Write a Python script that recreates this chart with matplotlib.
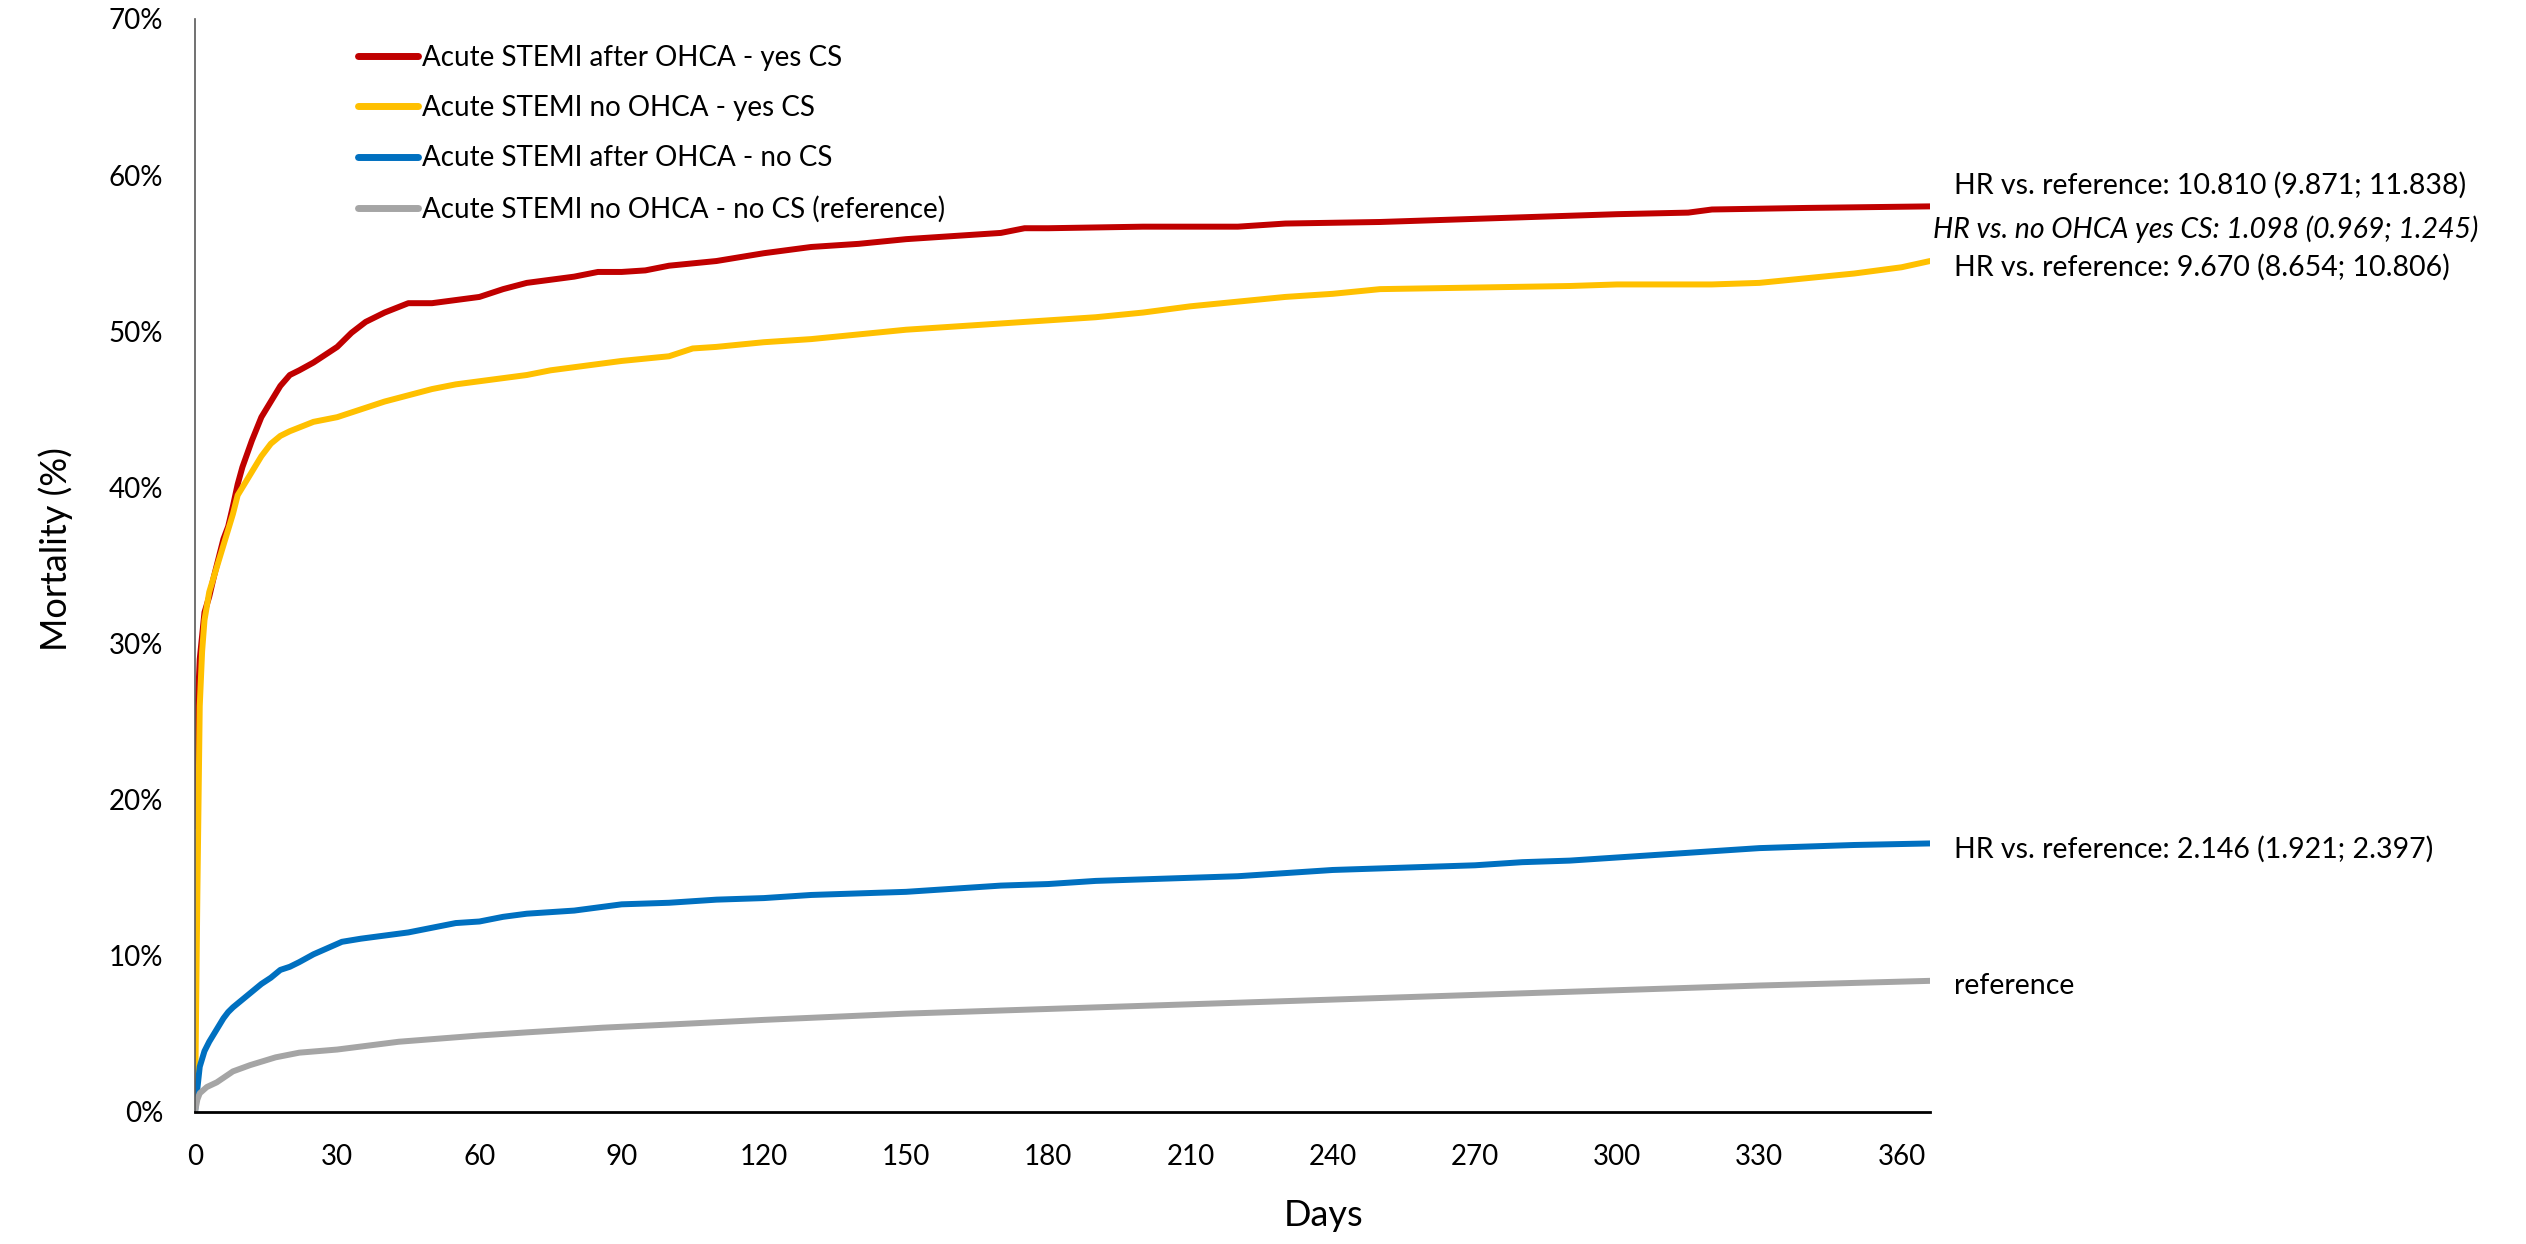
import matplotlib
matplotlib.use("Agg")
import matplotlib.pyplot as plt
from matplotlib.ticker import FuncFormatter

plt.rcParams['font.family'] = ['Lato', 'DejaVu Sans']

# Series: days since event and cumulative mortality (%)
days_red = [0, 0.3, 1, 2, 3, 4, 5, 6, 7, 8, 9, 10, 12, 14, 16, 18, 20, 22, 25, 28, 30,
            33, 36, 40, 45, 50, 55, 60, 65, 70, 75, 80, 85, 90, 95, 100, 110, 120, 130,
            140, 150, 160, 170, 175, 180, 200, 220, 230, 250, 260, 280, 300, 315, 320,
            340, 366]
mort_red = [18.3, 24, 29, 32, 33, 34.3, 35.5, 36.7, 37.5, 38.8, 40.2, 41.3, 43, 44.5,
            45.5, 46.5, 47.2, 47.5, 48, 48.6, 49, 49.9, 50.6, 51.2, 51.8, 51.8, 52,
            52.2, 52.7, 53.1, 53.3, 53.5, 53.8, 53.8, 53.9, 54.2, 54.5, 55, 55.4, 55.6,
            55.9, 56.1, 56.3, 56.6, 56.6, 56.7, 56.7, 56.9, 57.0, 57.1, 57.3, 57.5,
            57.6, 57.8, 57.9, 58.0]

days_yellow = [0, 0.5, 1, 1.5, 2, 3, 4, 5, 6, 7, 8, 9, 10, 12, 14, 16, 18, 20, 25, 30,
               35, 40, 45, 50, 55, 60, 65, 70, 75, 80, 85, 90, 100, 105, 110, 120, 130,
               140, 150, 160, 170, 180, 190, 200, 210, 220, 230, 240, 250, 270, 290,
               300, 320, 330, 340, 350, 360, 366]
mort_yellow = [0, 14, 26, 29.5, 31.5, 33.3, 34.3, 35.3, 36.3, 37.3, 38.3, 39.5, 40, 41,
               42, 42.8, 43.3, 43.6, 44.2, 44.5, 45, 45.5, 45.9, 46.3, 46.6, 46.8, 47,
               47.2, 47.5, 47.7, 47.9, 48.1, 48.4, 48.9, 49, 49.3, 49.5, 49.8, 50.1,
               50.3, 50.5, 50.7, 50.9, 51.2, 51.6, 51.9, 52.2, 52.4, 52.7, 52.8, 52.9,
               53, 53, 53.1, 53.4, 53.7, 54.1, 54.5]

days_blue = [0, 0.5, 1, 2, 3, 4, 5, 6, 7, 8, 10, 12, 14, 16, 18, 20, 22, 25, 28, 31, 35,
             40, 45, 50, 55, 60, 65, 70, 80, 85, 90, 100, 110, 120, 130, 140, 150, 160,
             170, 180, 190, 200, 210, 220, 230, 240, 250, 260, 270, 280, 290, 300, 310,
             320, 330, 340, 350, 366]
mort_blue = [0, 1.5, 2.9, 3.9, 4.5, 5.0, 5.5, 6.0, 6.4, 6.7, 7.2, 7.7, 8.2, 8.6, 9.1,
             9.3, 9.6, 10.1, 10.5, 10.9, 11.1, 11.3, 11.5, 11.8, 12.1, 12.2, 12.5, 12.7,
             12.9, 13.1, 13.3, 13.4, 13.6, 13.7, 13.9, 14, 14.1, 14.3, 14.5, 14.6, 14.8,
             14.9, 15, 15.1, 15.3, 15.5, 15.6, 15.7, 15.8, 16, 16.1, 16.3, 16.5, 16.7,
             16.9, 17, 17.1, 17.2]

days_gray = [0, 0.5, 1, 2.5, 4.6, 8, 11.6, 17, 22, 30, 43, 60, 70, 86, 100, 120,
             150, 180, 210, 240, 270, 300, 330, 366]
mort_gray = [0, 0.8, 1.2, 1.6, 1.9, 2.6, 3.0, 3.5, 3.8, 4.0, 4.5, 4.9, 5.1, 5.4, 5.6,
             5.9, 6.3, 6.6, 6.9, 7.2, 7.5, 7.8, 8.1, 8.4]

labels = ['Acute STEMI after OHCA - yes CS', 'Acute STEMI no OHCA - yes CS',
          'Acute STEMI after OHCA - no CS', 'Acute STEMI no OHCA - no CS (reference)']
colors = ['#C00000', '#FFC000', '#0070C0', '#A5A5A5']

x_ticks = list(range(0, 361, 30))
y_ticks = list(range(0, 71, 10))

hr_texts = ['HR vs. reference: 10.810 (9.871; 11.838)',
            'HR vs. no OHCA yes CS: 1.098 (0.969; 1.245)',
            'HR vs. reference: 9.670 (8.654; 10.806)',
            'HR vs. reference: 2.146 (1.921; 2.397)',
            'reference']

W, H = 2526, 1244
fig = plt.figure(figsize=(W / 100, H / 100), dpi=100)
ax = fig.add_axes([195 / W, 1 - 1112 / H, (1930 - 195) / W, (1112 - 19) / H])

series = [(days_red, mort_red), (days_yellow, mort_yellow),
          (days_blue, mort_blue), (days_gray, mort_gray)]
for (d, m), lab, c in zip(series, labels, colors):
    ax.plot(d, m, color=c, lw=4.3, label=lab, solid_capstyle='round')

ax.set_xlim(0, 366)
ax.set_ylim(0, 70)
ax.set_xticks(x_ticks)
ax.set_yticks(y_ticks)
ax.yaxis.set_major_formatter(FuncFormatter(lambda v, p: f'{int(v)}%'))
ax.tick_params(length=0, labelsize=20, pad=23)

for s in ['top', 'right']:
    ax.spines[s].set_visible(False)
ax.spines['left'].set_color('#595959')
ax.spines['left'].set_linewidth(1.2)
ax.spines['bottom'].set_color('black')
ax.spines['bottom'].set_linewidth(2.0)

leg = ax.legend(loc='upper left', bbox_to_anchor=(358 / W, 1 - 45 / H),
                bbox_transform=fig.transFigure, frameon=False, fontsize=20,
                handlelength=2.15, handletextpad=0.15, labelspacing=0.87,
                borderpad=0, borderaxespad=0)
for line in leg.get_lines():
    line.set_linewidth(5)

fig.text(1324 / W, 1 - 1216 / H, 'Days', fontsize=26, ha='center', va='center')
fig.text(56 / W, 1 - 549 / H, 'Mortality (%)', fontsize=26, ha='center', va='center',
         rotation=90)

# hazard ratio notes at the right end of the curves
note_pos = [(1954, 185, 'normal'), (1933, 229, 'italic'), (1954, 267, 'normal'),
            (1954, 849, 'normal'), (1954, 986, 'normal')]
for (px, py, st), t in zip(note_pos, hr_texts):
    fig.text(px / W, 1 - py / H, t, fontsize=20.5, style=st, ha='left', va='center')

fig.savefig('out.png', dpi=100)
plt.close(fig)
